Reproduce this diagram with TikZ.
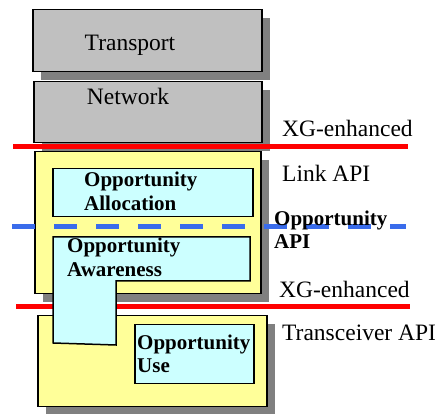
\documentclass[tikz,border=0pt]{standalone}
\usepackage{fontspec}
\setmainfont{Liberation Serif}
\usepackage{tikz}
\usetikzlibrary{positioning, shadows, calc}
\definecolor{layergray}{RGB}{192,192,192}
\definecolor{shadowgray}{RGB}{128,128,128}
\definecolor{layeryellow}{RGB}{255,255,153}
\definecolor{blockcyan}{RGB}{204,255,255}
\definecolor{apiblue}{RGB}{58,108,235}
\tikzset{
	layerbox/.style={draw=black, line width=1.5pt, anchor=north west, inner sep=0pt,
		drop shadow={shadow xshift=8pt, shadow yshift=-8pt, fill=shadowgray, opacity=1}}
}
\tikzset{
	blockbox/.style={draw=black, line width=1.5pt, anchor=north west, inner sep=0pt, fill=blockcyan}
}
\tikzset{
	layertext/.style={font=\fontsize{23.5}{26}\selectfont, inner sep=0pt},
	blocktext/.style={font=\fontsize{21}{23.5}\selectfont\bfseries, inner sep=0pt, align=left, anchor=west}
}
\begin{document}
\begin{tikzpicture}[x=1pt, y=-1pt]
      \useasboundingbox (0,0) rectangle (440,414);
      % upper layers
      \node[layerbox, fill=layergray, minimum width=229pt, minimum height=62pt] (transport) at (32,9) {};
      \node[layertext] (transporttxt) at (130,45) {Transport};
      \node[layerbox, fill=layergray, minimum width=228pt, minimum height=61pt] (network) at (33,81) {};
      \node[layertext] (networktxt) at (128,96) {Network};
      % link layer
      \node[layerbox, fill=layeryellow, minimum width=226pt, minimum height=142pt] (link) at (34,151) {};
      \node[blockbox, minimum width=200pt, minimum height=48pt] (alloc) at (52,168) {};
      \node[blocktext] (alloctxt) at (84,191.5) {Opportunity\\Allocation};
      % transceiver layer
      \node[layerbox, fill=layeryellow, minimum width=229pt, minimum height=91pt] (trx) at (37,315) {};
      \node[blockbox, minimum width=119pt, minimum height=59pt] (use) at (134,324) {};
      \node[blocktext] (usetxt) at (137,354) {Opportunity\\Use};
      % API boundaries
      \coordinate (xga) at (13,147);
      \coordinate (xgb) at (408,147);
      \coordinate (opa) at (12,227);
      \coordinate (opb) at (406,227);
      \coordinate (xgc) at (16,307);
      \coordinate (xgd) at (410,307);
      \draw[red, line width=5pt] (xga) -- (xgb);
      \draw[apiblue, line width=5pt, dash pattern=on 23pt off 19pt] (opa) -- (opb);
      \draw[red, line width=5pt] (xgc) -- (xgd);
      % awareness block spans both layers
      \draw[line width=1.5pt, fill=blockcyan] (53,237) -- (250,237) -- (250,281) -- (116,281)
            -- (116,345) -- (53,343) -- cycle;
      \node[blocktext] (awaretxt) at (67,257.5) {Opportunity\\Awareness};
      % labels on the right
      \node[layertext, anchor=west] (xgtop) at (282,128) {XG-enhanced};
      \node[layertext, anchor=west] (linkapi) at (282,173) {Link API};
      \node[blocktext] (oppapi) at (274,229.5) {Opportunity\\API};
      \node[layertext, anchor=west] (xgbot) at (279,289) {XG-enhanced};
      \node[layertext, anchor=west] (trxapi) at (282,333) {Transceiver API};
    \end{tikzpicture}
\end{document}
